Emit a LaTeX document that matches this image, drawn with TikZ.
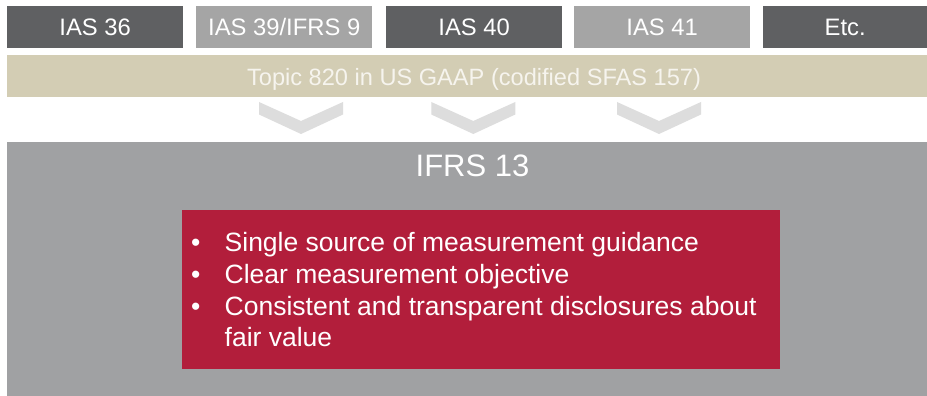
\documentclass[tikz,border=0pt]{standalone}
\usepackage{fontspec}
\usepackage{array}
\setmainfont{Liberation Sans}
\definecolor{darkbox}{HTML}{5F6062}
\definecolor{lightbox}{HTML}{A5A5A5}
\definecolor{tanband}{HTML}{D3CDB4}
\definecolor{tantext}{HTML}{F6F4EE}
\definecolor{bigbox}{HTML}{A0A1A3}
\definecolor{redbox}{HTML}{B21E3B}
\definecolor{chevcol}{HTML}{DDDDDD}
\tikzset{
  topbox/.style={anchor=north west, inner sep=0pt, minimum width=176pt, minimum height=41.5pt,
    text=white, font=\fontsize{23.8}{28}\selectfont, text height=17pt, text depth=0pt},
  darkfill/.style={fill=darkbox},
  lightfill/.style={fill=lightbox},
  plainbox/.style={anchor=north west, inner sep=0pt},
  chevfill/.style={fill=chevcol},
}
\begin{document}
\begin{tikzpicture}[x=1pt,y=-1pt]
\useasboundingbox (0,0) rectangle (927,396);
\fill[white] (0,0) rectangle (927,396);
% top boxes
\node[topbox,darkfill] (b1) at (7,6) {IAS 36};
\node[topbox,lightfill] (b2) at (196,6) {IAS 39/IFRS 9};
\node[topbox,darkfill] (b3) at (386,6) {IAS 40};
\node[topbox,lightfill] (b4) at (574,6) {IAS 41};
\node[topbox,darkfill,minimum width=164pt] (b5) at (763,6) {Etc.};
% tan band
\node[plainbox,fill=tanband,minimum width=920pt,minimum height=42pt] (band) at (7,55) {};
\node[inner sep=0pt,text=tantext,font=\fontsize{23.6}{28}\selectfont,text height=17pt,text depth=0pt] (bandtxt) at (474,76.5) {Topic 820 in US GAAP (codified SFAS 157)};
% chevrons
\foreach \cx in {301,473.3,659}
  \fill[chevfill] (\cx-42,102) -- (\cx-42,114.5) -- (\cx,134) -- (\cx+42,114.5) -- (\cx+42,102) -- (\cx,121) -- cycle;
% big box
\node[plainbox,fill=bigbox,minimum width=920pt,minimum height=254pt] (big) at (7,142) {};
\node[inner sep=0pt,text=white,font=\fontsize{31}{36}\selectfont,text height=22.5pt,text depth=0pt] (ifrs) at (472.5,165.5) {IFRS 13};
% red box
\node[plainbox,fill=redbox,minimum width=598pt,minimum height=159pt] (red) at (182,210) {};
\node[anchor=base west,inner sep=0pt,text=white,font=\fontsize{26.5}{31.7}\selectfont] (list) at (191,251.7)
{\begin{tabular}[t]{@{}p{33.5pt}@{}>{\raggedright\arraybackslash}p{545pt}@{}}
\textbullet & Single source of measurement guidance\\
\textbullet & Clear measurement objective\\
\textbullet & Consistent and transparent disclosures about fair value
\end{tabular}};
\end{tikzpicture}
\end{document}
